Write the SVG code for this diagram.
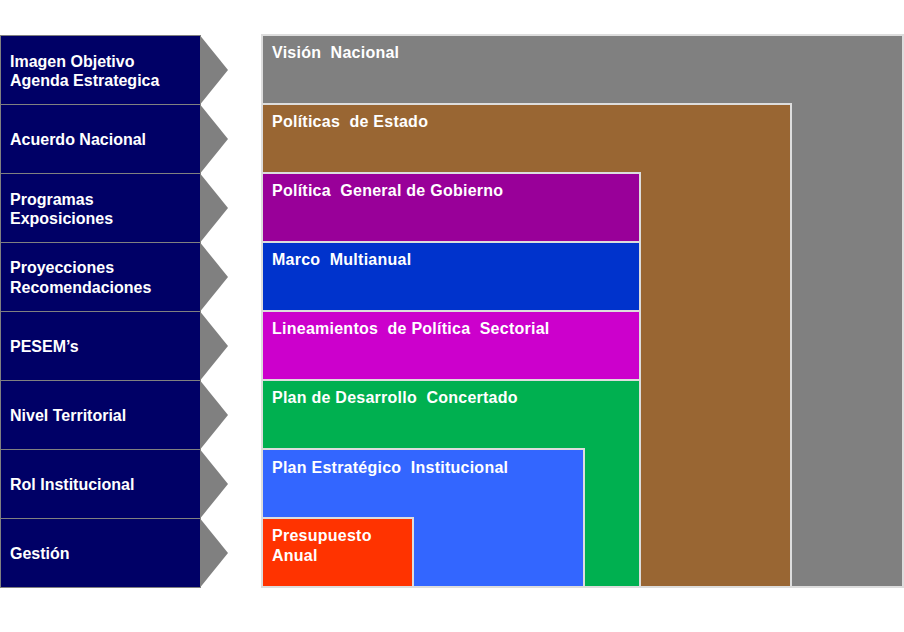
<svg xmlns="http://www.w3.org/2000/svg" width="904" height="632" viewBox="0 0 904 632">
<style>
.lb{fill:#000066;stroke:#808080;stroke-width:1}
.ar{fill:#808080}
.bx{stroke:#dddddd;stroke-width:2}
text{font-family:"Liberation Sans",Arial,sans-serif;font-weight:bold;font-size:16px;fill:#ffffff;white-space:pre}
.r{letter-spacing:0.25px}
</style>
<rect width="904" height="632" fill="#ffffff"/>
<g id="left-column">
<g id="row-imagen"><rect class="lb" x="0.5" y="35.5" width="200" height="69"/><polygon class="ar" points="200.5,36 228,70 200.5,104"/><text x="10" y="67">Imagen Objetivo</text><text x="10" y="86">Agenda Estrategica</text></g>
<g id="row-acuerdo"><rect class="lb" x="0.5" y="104.5" width="200" height="69"/><polygon class="ar" points="200.5,105 228,139 200.5,173"/><text x="10" y="145">Acuerdo Nacional</text></g>
<g id="row-programas"><rect class="lb" x="0.5" y="173.5" width="200" height="69"/><polygon class="ar" points="200.5,174 228,208 200.5,242"/><text x="10" y="205">Programas</text><text x="10" y="224">Exposiciones</text></g>
<g id="row-proyecciones"><rect class="lb" x="0.5" y="242.5" width="200" height="69"/><polygon class="ar" points="200.5,243 228,277 200.5,311"/><text x="10" y="273">Proyecciones</text><text x="10" y="293">Recomendaciones</text></g>
<g id="row-pesem"><rect class="lb" x="0.5" y="311.5" width="200" height="69"/><polygon class="ar" points="200.5,312 228,346 200.5,380"/><text x="10" y="352">PESEM’s</text></g>
<g id="row-nivel"><rect class="lb" x="0.5" y="380.5" width="200" height="69"/><polygon class="ar" points="200.5,381 228,415 200.5,449"/><text x="10" y="421">Nivel Territorial</text></g>
<g id="row-rol"><rect class="lb" x="0.5" y="449.5" width="200" height="69"/><polygon class="ar" points="200.5,450 228,484 200.5,518"/><text x="10" y="490">Rol Institucional</text></g>
<g id="row-gestion"><rect class="lb" x="0.5" y="518.5" width="200" height="69"/><polygon class="ar" points="200.5,519 228,553 200.5,587"/><text x="10" y="559">Gestión</text></g>
</g>
<g id="nested-boxes">
<g id="vision"><rect class="bx" x="262" y="35" width="641" height="552" fill="#808080"/><text class="r" x="272" y="58">Visión  Nacional</text></g>
<g id="politicas-estado"><rect class="bx" x="262" y="104" width="529" height="483" fill="#996633"/><text class="r" x="272" y="127">Políticas  de Estado</text></g>
<g id="politica-general"><rect class="bx" x="262" y="173" width="378" height="69" fill="#990099"/><text class="r" x="272" y="196">Política  General de Gobierno</text></g>
<g id="marco"><rect class="bx" x="262" y="242" width="378" height="69" fill="#0033CC"/><text class="r" x="272" y="265">Marco  Multianual</text></g>
<g id="lineamientos"><rect class="bx" x="262" y="311" width="378" height="69" fill="#CC00CC"/><text class="r" x="272" y="334">Lineamientos  de Política  Sectorial</text></g>
<g id="desarrollo"><rect class="bx" x="262" y="380" width="378" height="207" fill="#00B050"/><text class="r" x="272" y="403">Plan de Desarrollo  Concertado</text></g>
<g id="estrategico"><rect class="bx" x="262" y="449" width="322" height="138" fill="#3366FF"/><text class="r" x="272" y="473">Plan Estratégico  Institucional</text></g>
<g id="presupuesto"><rect class="bx" x="262" y="518" width="151" height="69" fill="#FF3300"/><text class="r" x="272" y="541">Presupuesto</text><text class="r" x="272" y="561">Anual</text></g>
</g>
<g id="connectors"></g>
</svg>
